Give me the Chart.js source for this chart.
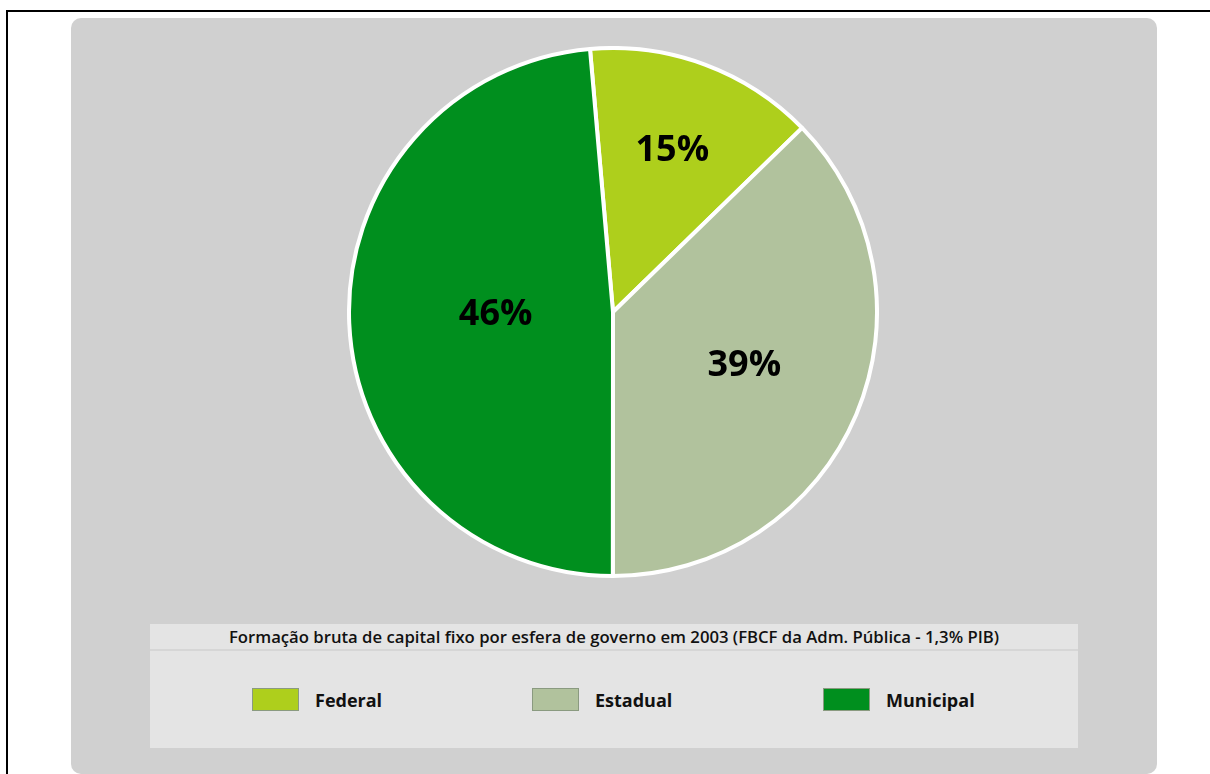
<!DOCTYPE html>
<html lang="pt">
<head>
  <meta charset="UTF-8" />
  <title>FBCF por esfera de governo 2003</title>
  <script src="https://cdn.jsdelivr.net/npm/chart.js"></script>
  <style>
    html,body{margin:0;padding:0;background:#fff;overflow:hidden;width:1210px;height:774px}
    body{font-family:"Open Sans","Noto Sans",Arial,sans-serif;position:relative}
    .frame{position:absolute;left:6px;top:10px;width:1400px;height:900px;border-left:2px solid #000;border-top:2px solid #000}
    .panel{position:absolute;left:71px;top:18px;width:1086px;height:756px;background:#d0d0d0;border-radius:10px}
    .pie{position:absolute;left:347px;top:46px;width:532px;height:532px}
    .legendBox{position:absolute;left:150px;top:624px;width:928px;height:124px;background:#e4e4e4}
    .legendTitle{height:25px;line-height:25px;text-align:center;font-size:16.7px;font-weight:600;color:#111;border-bottom:2px solid #d6d6d6;white-space:nowrap}
    .item{position:absolute;top:64px;height:23px;display:flex;align-items:center}
    .sw{width:45px;height:21px;border:1px solid #8a9a80;margin-right:16px}
    .item span{font-size:18px;font-weight:700;color:#111}
  </style>
</head>
<body>
  <div class="frame"></div>
  <div class="panel"></div>
  <div class="pie"><canvas id="pieChart" width="532" height="532"></canvas></div>
  <div class="legendBox" id="legendBox">
    <div class="legendTitle">Formação bruta de capital fixo por esfera de governo em 2003 (FBCF da Adm. Pública - 1,3% PIB)</div>
  </div>

<script>
// categorias e valores (fatias medidas no gráfico; rótulos como impressos)
const categories = ['Federal', 'Estadual', 'Municipal'];
const sliceValues = [14.1, 37.3, 48.6];
const sliceLabels = ['15%', '39%', '46%'];
const colors = ['#aecf1c', '#b1c29d', '#008f1e'];

// posição dos itens da legenda (layout)
const legendLeft = [102, 382, 673];
const labelRadius = [0.645, 0.54, 0.445];

// legenda em HTML
const box = document.getElementById('legendBox');
categories.forEach((c, i) => {
  const d = document.createElement('div');
  d.className = 'item';
  d.style.left = legendLeft[i] + 'px';
  d.innerHTML = `<div class="sw" style="background:${colors[i]}"></div><span>${c}</span>`;
  box.appendChild(d);
});

const sliceText = {
  id: 'sliceText',
  afterDatasetsDraw(chart) {
    const ctx = chart.ctx;
    const meta = chart.getDatasetMeta(0);
    ctx.save();
    ctx.font = 'bold 36px "Open Sans", Arial, sans-serif';
    ctx.fillStyle = '#000';
    ctx.textAlign = 'center';
    ctx.textBaseline = 'middle';
    meta.data.forEach((arc, i) => {
      const p = arc.getProps(['x', 'y', 'startAngle', 'endAngle', 'outerRadius'], true);
      const a = (p.startAngle + p.endAngle) / 2;
      const r = p.outerRadius * labelRadius[i];
      ctx.fillText(sliceLabels[i], p.x + Math.cos(a) * r, p.y + Math.sin(a) * r - 2);
    });
    ctx.restore();
  }
};

new Chart(document.getElementById('pieChart').getContext('2d'), {
  type: 'pie',
  data: {
    labels: categories,
    datasets: [{
      data: sliceValues,
      backgroundColor: colors,
      borderColor: '#fff',
      borderWidth: 4,
      borderAlign: 'center'
    }]
  },
  options: {
    responsive: false,
    animation: false,
    rotation: -5,
    layout: { padding: 0 },
    plugins: { legend: { display: false }, tooltip: { enabled: false } }
  },
  plugins: [sliceText]
});
</script>
</body>
</html>
